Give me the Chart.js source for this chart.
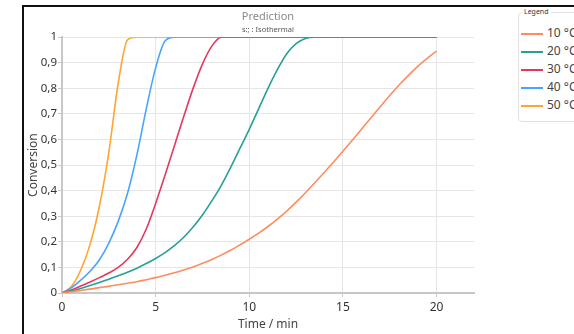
<!DOCTYPE html>
<html>
<head>
<meta charset="utf-8">
<script src="https://cdn.jsdelivr.net/npm/chart.js@4/dist/chart.umd.min.js"></script>
<style>
  html, body { margin: 0; padding: 0; background: #fff; overflow: hidden; }
  body { width: 574px; height: 334px; position: relative; font-family: 'Noto Sans', sans-serif; }
  #frame { position: absolute; left: 22px; top: 5px; width: 640px; height: 400px; border: 2px solid #111; }
  #wrap { position: absolute; left: 0; top: 0; width: 574px; height: 334px; }
  #legend { position: absolute; left: 518px; top: 12px; width: 100px; height: 108px;
            border: 1px solid #e2e2e2; border-radius: 4px; background: #fff; }
  #legend .ttl { position: absolute; left: 3px; top: -6px; font-size: 7px; color: #333;
                 background: #fff; padding: 0 2px; line-height: 10px; }
  #legend ul { list-style: none; margin: 0; padding: 11px 0 0 2px; }
  #legend li { height: 18px; line-height: 18px; font-size: 12px; color: #444; white-space: nowrap; }
  #legend li span { display: inline-block; width: 22px; height: 2px; vertical-align: middle; margin-right: 4px; }
</style>
</head>
<body>
<div id="frame"></div>
<div id="wrap"><canvas id="chart"></canvas></div>
<div id="legend"><div class="ttl">Legend</div><ul id="legend-list"></ul></div>
<script>
// time grid (min)
const time = [0, 0.5, 1, 1.5, 2, 2.5, 3, 3.5, 4, 4.5, 5, 5.5, 6, 6.5, 7, 7.5, 8, 8.5, 9, 9.5,
  10, 10.5, 11, 11.5, 12, 12.5, 13, 13.5, 14, 14.5, 15, 15.5, 16, 16.5, 17, 17.5, 18, 18.5, 19, 19.5, 20];

const labels = ['10 °C', '20 °C', '30 °C', '40 °C', '50 °C'];
const colors = ['#ff8c5e', '#27a096', '#e5385b', '#4aa3ff', '#ffa530'];

const conv10 = [0, 0.005, 0.01, 0.015, 0.021, 0.026, 0.032, 0.038, 0.044, 0.052, 0.06, 0.069, 0.079, 0.09, 0.102,
  0.116, 0.131, 0.148, 0.167, 0.188, 0.21, 0.234, 0.26, 0.289, 0.32, 0.355, 0.392, 0.431, 0.471, 0.512, 0.554,
  0.597, 0.641, 0.685, 0.729, 0.772, 0.813, 0.851, 0.886, 0.917, 0.946];
const conv20 = [0, 0.008, 0.018, 0.029, 0.041, 0.054, 0.067, 0.081, 0.097, 0.115, 0.135, 0.158, 0.185, 0.218, 0.258,
  0.305, 0.36, 0.42, 0.49, 0.565, 0.64, 0.72, 0.8, 0.873, 0.935, 0.975, 0.995, 1, 1, 1, 1, 1, 1, 1, 1, 1, 1, 1, 1, 1, 1];
const conv30 = [0, 0.012, 0.027, 0.043, 0.06, 0.078, 0.1, 0.132, 0.178, 0.25, 0.35, 0.46, 0.575, 0.69, 0.8, 0.895,
  0.965, 1, 1, 1, 1, 1, 1, 1, 1, 1, 1, 1, 1, 1, 1, 1, 1, 1, 1, 1, 1, 1, 1, 1, 1];
const conv40 = [0, 0.02, 0.05, 0.085, 0.13, 0.195, 0.28, 0.39, 0.54, 0.72, 0.88, 0.985, 1, 1, 1, 1, 1, 1, 1, 1,
  1, 1, 1, 1, 1, 1, 1, 1, 1, 1, 1, 1, 1, 1, 1, 1, 1, 1, 1, 1, 1];
const conv50 = [0, 0.025, 0.09, 0.19, 0.34, 0.55, 0.82, 0.99, 1, 1, 1, 1, 1, 1, 1, 1, 1, 1, 1, 1,
  1, 1, 1, 1, 1, 1, 1, 1, 1, 1, 1, 1, 1, 1, 1, 1, 1, 1, 1, 1, 1];

const series = [conv10, conv20, conv30, conv40, conv50];
const yTicks = [0, 0.1, 0.2, 0.3, 0.4, 0.5, 0.6, 0.7, 0.8, 0.9, 1];

Chart.defaults.font.family = "'Noto Sans', sans-serif";

const datasets = series.map((vals, i) => ({
  label: labels[i],
  data: vals.map((v, k) => ({ x: time[k], y: v })),
  borderColor: colors[i],
  backgroundColor: colors[i],
  borderWidth: 1.6,
  pointRadius: 0,
  cubicInterpolationMode: 'monotone',
  fill: false
}));

const chart = new Chart(document.getElementById('chart'), {
  type: 'line',
  data: { datasets },
  options: {
    responsive: true,
    maintainAspectRatio: false,
    animation: false,
    layout: { padding: { left: 24, right: 100, top: 0, bottom: 0 } },
    plugins: {
      legend: { display: false },
      tooltip: { enabled: false },
      title: {
        display: true, text: 'Prediction', fullSize: false, color: '#8a8a8a',
        font: { size: 11, weight: 'normal' }, padding: { top: 10, bottom: 2 }
      },
      subtitle: {
        display: true, text: 's:; : Isothermal', fullSize: false, color: '#555',
        font: { size: 7.5 }, padding: { top: 0, bottom: 3 }
      }
    },
    scales: {
      x: {
        type: 'linear', min: 0, max: 22,
        afterFit: s => { s.height = 41; },
        ticks: { stepSize: 5, includeBounds: false, color: '#333', font: { size: 12 }, padding: 3, maxRotation: 0 },
        grid: { color: '#e6e6e6', tickColor: '#c8c8c8', tickLength: 4 },
        border: { color: '#c8c8c8', width: 2 },
        title: { display: true, text: 'Time / min', color: '#444', font: { size: 12 }, padding: { top: 0, bottom: 2 } }
      },
      y: {
        min: 0, max: 1,
        afterFit: s => { s.width = 38; },
        afterBuildTicks: s => { s.ticks = yTicks.map(v => ({ value: v })); },
        ticks: {
          color: '#333', font: { size: 11.5 }, padding: 1,
          callback: v => String(+v.toFixed(1)).replace('.', ',')
        },
        grid: { color: '#e6e6e6', tickColor: '#c8c8c8', tickLength: 4 },
        border: { color: '#c8c8c8', width: 2 },
        title: { display: true, text: 'Conversion', color: '#444', font: { size: 12 }, padding: { top: 2, bottom: 0 } }
      }
    }
  }
});

// html legend built from the chart datasets
const list = document.getElementById('legend-list');
chart.data.datasets.forEach(ds => {
  const li = document.createElement('li');
  const sw = document.createElement('span');
  sw.style.background = ds.borderColor;
  li.appendChild(sw);
  li.appendChild(document.createTextNode(ds.label));
  list.appendChild(li);
});
</script>
</body>
</html>
